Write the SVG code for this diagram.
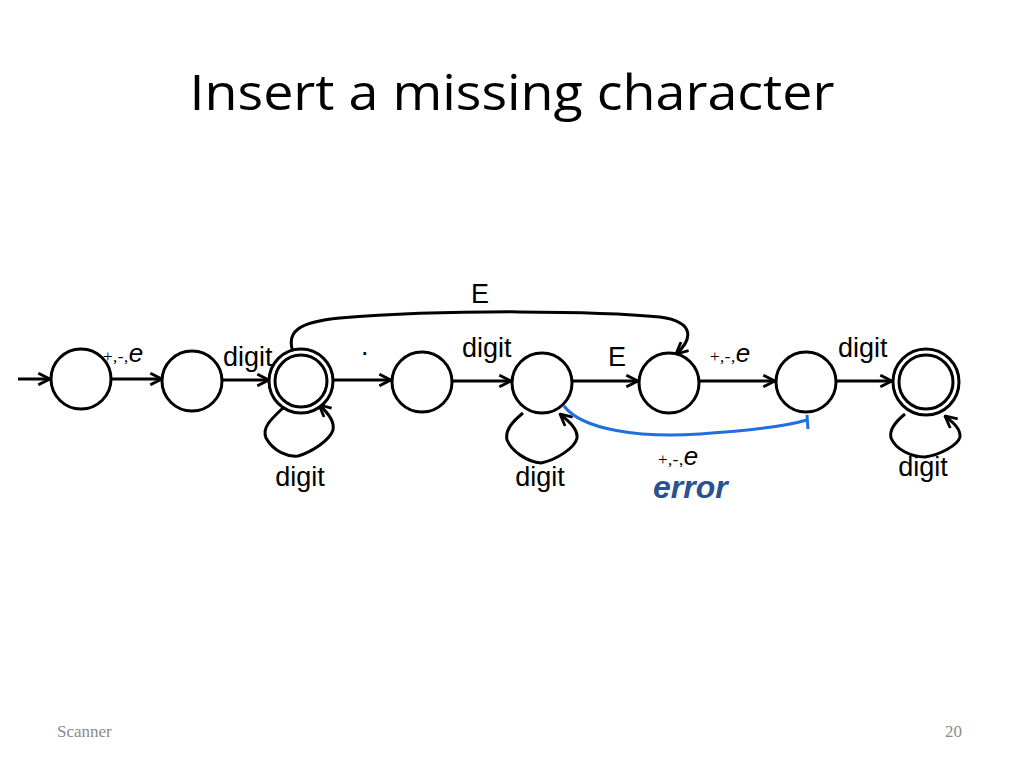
<svg xmlns="http://www.w3.org/2000/svg" width="1024" height="768" viewBox="0 0 1024 768">
<style>
.st{fill:#fff;stroke:#000;stroke-width:3}
.ed{fill:none;stroke:#000;stroke-width:3}
.lb{font-family:"Liberation Sans",Arial,sans-serif;font-size:27px;fill:#000}
.sm{font-family:"Liberation Serif","Times New Roman",serif;font-size:17px;letter-spacing:0.5px;fill:#000}
.it{font-family:"Liberation Sans",Arial,sans-serif;font-style:italic;font-size:26px;letter-spacing:0;fill:#000}
.ft{font-family:"Liberation Serif","Times New Roman",serif;font-size:17px;fill:#8a8a8a}
</style>
<defs>
<marker id="arr" viewBox="0 0 12 12" refX="11" refY="6" markerWidth="14" markerHeight="14" orient="auto" markerUnits="userSpaceOnUse">
<path d="M1,1 L11,6 L1,11" fill="none" stroke="#000" stroke-width="2.4"/>
</marker>
</defs>
<rect width="1024" height="768" fill="#fff"/>
<text x="512" y="110" text-anchor="middle" font-family="'Open Sans','Noto Sans',sans-serif" font-size="50" textLength="645" lengthAdjust="spacingAndGlyphs" fill="#000">Insert a missing character</text>

<g id="connectors">
<path class="ed" d="M18 379 L50 379" marker-end="url(#arr)"/>
<path class="ed" d="M112 379 L162 379" marker-end="url(#arr)"/>
<path class="ed" d="M222 380 L269 380" marker-end="url(#arr)"/>
<path class="ed" d="M333 380 L391 380" marker-end="url(#arr)"/>
<path class="ed" d="M453 381 L511 381" marker-end="url(#arr)"/>
<path class="ed" d="M573 381 L638 381" marker-end="url(#arr)"/>
<path class="ed" d="M700 381 L775 381" marker-end="url(#arr)"/>
<path class="ed" d="M836 381 L892 381" marker-end="url(#arr)"/>
<path class="ed" d="M293 352 C286 332, 298 322, 340 318 C450 309, 600 311, 660 317 C696 322, 692 340, 676 354" marker-end="url(#arr)"/>
<path class="ed" d="M283 408 C270 420, 262 428, 266 438 C274 452, 288 457, 298 456 C312 452, 330 440, 333 430 C335 420, 326 411, 319 405" marker-end="url(#arr)"/>
<path class="ed" d="M523 413 C512 422, 505 430, 507 440 C512 452, 528 462, 541 463 C556 460, 575 448, 577 438 C578 428, 567 420, 560 414" marker-end="url(#arr)"/>
<path class="ed" d="M905 414 C895 422, 889 430, 891 438 C896 450, 912 457, 925 457 C940 455, 958 445, 960 437 C961 428, 951 421, 945 416" marker-end="url(#arr)"/>
<path d="M564 406 C582 430, 640 438, 700 434 C760 430, 790 425, 807 420" fill="none" stroke="#1e6fe0" stroke-width="3"/>
<path d="M807 415 L808 429" fill="none" stroke="#1e6fe0" stroke-width="3"/>
</g>

<g id="s1"><circle class="st" cx="81" cy="379" r="30"/></g>
<g id="s2"><circle class="st" cx="192" cy="381" r="30"/></g>
<g id="s3"><circle class="st" cx="301" cy="381" r="32"/><circle class="st" cx="301" cy="381" r="26"/></g>
<g id="s4"><circle class="st" cx="422" cy="382" r="30"/></g>
<g id="s5"><circle class="st" cx="542" cy="383" r="30"/></g>
<g id="s6"><circle class="st" cx="669" cy="383" r="30"/></g>
<g id="s7"><circle class="st" cx="806" cy="382" r="30"/></g>
<g id="s8"><circle class="st" cx="926" cy="382" r="33"/><circle class="st" cx="926" cy="382" r="27"/></g>

<g id="labels">
<text x="103" y="362"><tspan class="sm">+,-,</tspan><tspan class="it">e</tspan></text>
<text class="lb" x="223" y="366">digit</text>
<text class="lb" x="361" y="355">.</text>
<text class="lb" x="462" y="357">digit</text>
<text class="lb" x="608" y="366">E</text>
<text class="lb" x="480" y="303" text-anchor="middle">E</text>
<text x="710" y="362"><tspan class="sm">+,-,</tspan><tspan class="it">e</tspan></text>
<text class="lb" x="838" y="357">digit</text>
<text class="lb" x="300" y="486" text-anchor="middle">digit</text>
<text class="lb" x="540" y="486" text-anchor="middle">digit</text>
<text class="lb" x="923" y="476" text-anchor="middle">digit</text>
<text x="658" y="465"><tspan class="sm">+,-,</tspan><tspan class="it">e</tspan></text>
<text x="653" y="498" font-family="'Liberation Sans',Arial,sans-serif" font-weight="bold" font-style="italic" font-size="32" fill="#2a5290">error</text>
</g>

<text class="ft" x="57" y="737">Scanner</text>
<text class="ft" x="962" y="737" text-anchor="end">20</text>
</svg>
